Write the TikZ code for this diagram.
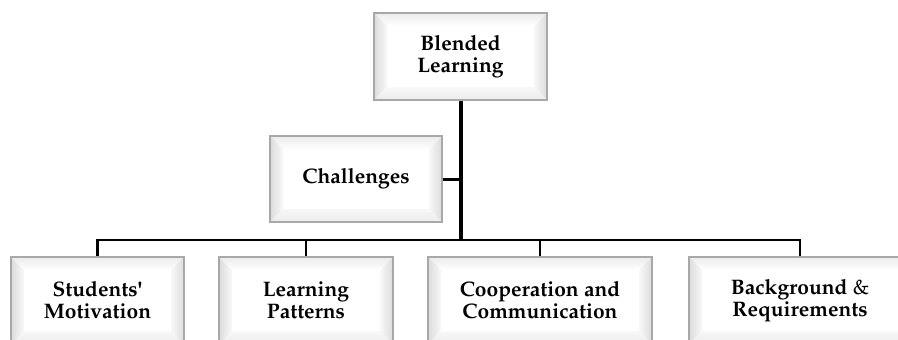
\documentclass[tikz,border=0pt]{standalone}
\usepackage[T1]{fontenc}
\renewcommand{\rmdefault}{ppl}
\usetikzlibrary{calc}

\definecolor{boxedge}{HTML}{A8A8A8}
\definecolor{bevouter}{HTML}{DCDCDC}
\definecolor{bevmid}{HTML}{EBEBEB}
\definecolor{bevinner}{HTML}{F8F8F8}

\tikzset{
  bevelbox/.style={
    rectangle, draw=boxedge, line width=1.2pt, fill=white,
    inner sep=0pt, align=center,
    font=\fontsize{21}{22}\selectfont\bfseries,
    path picture={
      \coordinate (bnw) at (path picture bounding box.north west);
      \coordinate (bne) at (path picture bounding box.north east);
      \coordinate (bsw) at (path picture bounding box.south west);
      \coordinate (bse) at (path picture bounding box.south east);
      % bevelled frame: four trapezoids around a white face
      \shade[top color=bevmid, bottom color=white]
        (bnw) -- (bne) -- ($(bne)+(-13pt,-13pt)$) -- ($(bnw)+(13pt,-13pt)$) -- cycle;
      \shade[left color=bevouter, right color=bevinner]
        (bnw) -- ($(bnw)+(13pt,-13pt)$) -- ($(bsw)+(13pt,13pt)$) -- (bsw) -- cycle;
      \shade[left color=bevinner, right color=bevouter]
        (bne) -- ($(bne)+(-13pt,-13pt)$) -- ($(bse)+(-13pt,13pt)$) -- (bse) -- cycle;
      \shade[top color=bevinner, bottom color=bevmid]
        (bsw) -- ($(bsw)+(13pt,13pt)$) -- ($(bse)+(-13pt,13pt)$) -- (bse) -- cycle;
    }
  },
  trunk/.style={line width=4pt},
  branch/.style={line width=2.4pt, line join=miter},
  x=1pt, y=-1pt
}

\begin{document}
\begin{tikzpicture}
  \useasboundingbox (0,0) rectangle (898,340);
  \clip (0,0) rectangle (898,340);

  % meeting point of the trunk and the lower branch line
  \coordinate (hub) at (460.5,240);

  % boxes
  \node[bevelbox, minimum width=173pt, minimum height=87pt] (top) at (460.5,56.5) {Blended\\Learning};
  \node[bevelbox, minimum width=172pt, minimum height=86pt] (chal) at (356,179) {Challenges};
  \node[bevelbox, minimum width=173pt, minimum height=87pt] (stud) at (97.5,300.5) {Students\textquotesingle\\Motivation};
  \node[bevelbox, minimum width=174pt, minimum height=87pt] (learn) at (306,300.5) {Learning\\Patterns};
  \node[bevelbox, minimum width=224pt, minimum height=87pt] (coop) at (540,300.5) {Cooperation and\\Communication};
  \node[bevelbox, minimum width=222pt, minimum height=87pt] (back) at (800,300.5) {Background {\mdseries\&}\\Requirements};

  % connectors
  \draw[branch] (stud.north) |- (hub);
  \draw[branch] (learn.north) |- (hub);
  \draw[branch] (coop.north) |- (hub);
  \draw[branch] (back.north) |- (hub);
  \draw[trunk] (top.south) -- (hub);
  \draw[branch, line width=3pt] (chal.east) -- (chal.east -| top.south);
\end{tikzpicture}
\end{document}
